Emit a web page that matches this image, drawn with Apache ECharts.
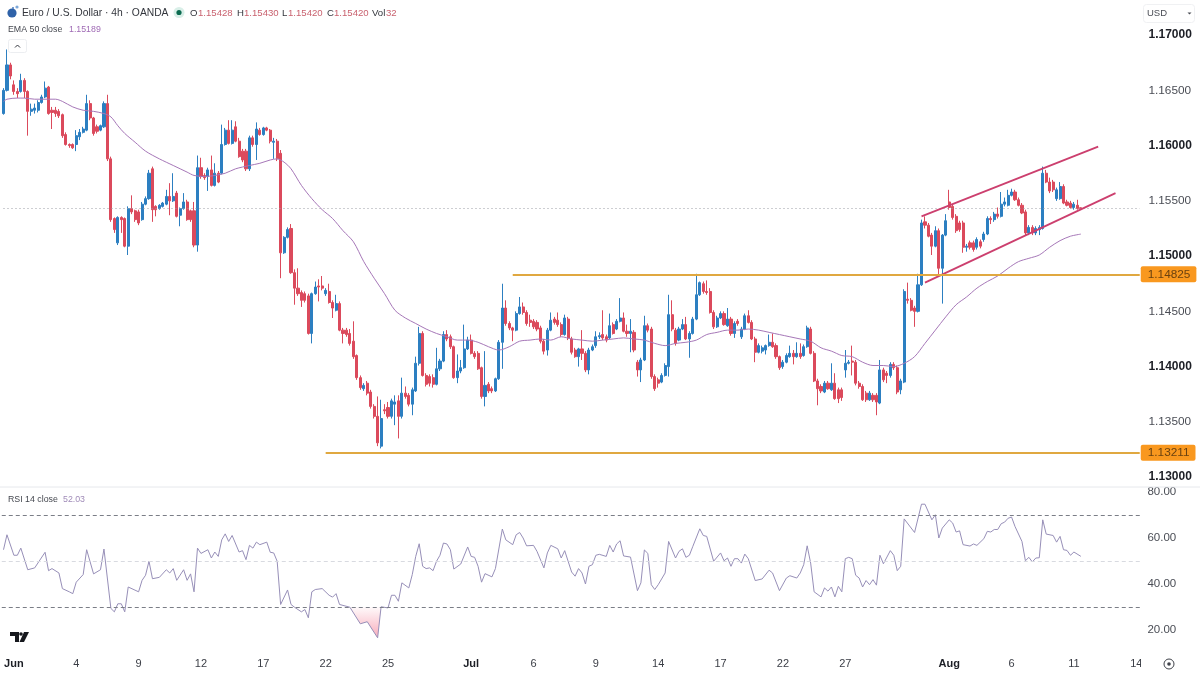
<!DOCTYPE html>
<html><head><meta charset="utf-8">
<style>html,body{margin:0;padding:0;background:#fff}#c{width:1200px;height:675px}</style>
<script src="https://cdn.jsdelivr.net/npm/echarts@6/dist/echarts.min.js"></script>
</head><body><div id="c"></div>
<script>
// rows: [open, close, low, high]
const juneCandles = [
[1.1628,1.1649,1.1627,1.1651],[1.1649,1.1672,1.1648,1.1686],[1.1672,1.1662,1.1659,1.1674],[1.1654,1.1648,1.1645,1.1658],[1.1648,1.1646,1.1642,1.1651],[1.1648,1.1658,1.1647,1.1664],[1.1658,1.1648,1.1642,1.1660],[1.1648,1.1630,1.1608,1.1649],[1.1630,1.1632,1.1626,1.1637],[1.1631,1.1633,1.1628,1.1637],
[1.1631,1.1638,1.1629,1.1640],[1.1638,1.1643,1.1637,1.1645],[1.1643,1.1651,1.1642,1.1657],[1.1652,1.1628,1.1627,1.1653],[1.1631,1.1629,1.1614,1.1634],[1.1631,1.1628,1.1625,1.1634],[1.1630,1.1626,1.1624,1.1632],[1.1627,1.1608,1.1606,1.1628],[1.1609,1.1600,1.1599,1.1611],[1.1600,1.1599,1.1597,1.1601],
[1.1600,1.1597,1.1596,1.1601],[1.1600,1.1608,1.1594,1.1613],[1.1607,1.1611,1.1604,1.1614],[1.1611,1.1614,1.1610,1.1616],[1.1613,1.1637,1.1612,1.1645],[1.1637,1.1624,1.1622,1.1640],[1.1624,1.1610,1.1608,1.1625],[1.1616,1.1612,1.1610,1.1618],[1.1613,1.1617,1.1612,1.1618],[1.1616,1.1637,1.1615,1.1639],
[1.1637,1.1587,1.1585,1.1645],[1.1587,1.1532,1.1530,1.1589],[1.1533,1.1523,1.1520,1.1534],[1.1511,1.1534,1.1509,1.1535],[1.1534,1.1532,1.1520,1.1535],[1.1533,1.1508,1.1507,1.1534],[1.1508,1.1542,1.1500,1.1544],[1.1542,1.1539,1.1537,1.1554],[1.1540,1.1532,1.1530,1.1541],[1.1539,1.1529,1.1527,1.1541],
[1.1532,1.1546,1.1531,1.1548],[1.1546,1.1551,1.1545,1.1553],[1.1551,1.1574,1.1550,1.1577],[1.1578,1.1541,1.1530,1.1580],[1.1544,1.1541,1.1535,1.1545],[1.1542,1.1545,1.1541,1.1546],[1.1544,1.1547,1.1543,1.1548],[1.1546,1.1553,1.1545,1.1559],[1.1553,1.1549,1.1536,1.1565],[1.1549,1.1553,1.1548,1.1574],
[1.1556,1.1535,1.1534,1.1558],[1.1536,1.1542,1.1526,1.1543],[1.1542,1.1548,1.1541,1.1556],[1.1548,1.1532,1.1531,1.1550],[1.1540,1.1532,1.1530,1.1541],[1.1540,1.1509,1.1507,1.1548],[1.1509,1.1579,1.1503,1.1590],[1.1579,1.1571,1.1569,1.1588],[1.1572,1.1570,1.1568,1.1574],[1.1571,1.1577,1.1558,1.1579],
[1.1577,1.1563,1.1562,1.1590],[1.1563,1.1574,1.1562,1.1583],[1.1574,1.1566,1.1565,1.1576],[1.1574,1.1600,1.1573,1.1618],[1.1600,1.1613,1.1599,1.1615],[1.1613,1.1601,1.1600,1.1622],[1.1601,1.1613,1.1600,1.1622],[1.1616,1.1603,1.1602,1.1621],[1.1603,1.1589,1.1588,1.1606],[1.1594,1.1586,1.1584,1.1596],
[1.1594,1.1578,1.1576,1.1596],[1.1578,1.1606,1.1576,1.1608],[1.1606,1.1600,1.1598,1.1608],[1.1600,1.1614,1.1586,1.1620],[1.1613,1.1609,1.1608,1.1615],[1.1609,1.1615,1.1608,1.1616],[1.1615,1.1613,1.1612,1.1616],[1.1613,1.1603,1.1601,1.1614],[1.1602,1.1603,1.1587,1.1606],[1.1603,1.1587,1.1585,1.1605],
[1.1592,1.1502,1.1479,1.1595],[1.1502,1.1516,1.1501,1.1517],[1.1516,1.1523,1.1515,1.1525],[1.1524,1.1484,1.1483,1.1528],[1.1484,1.1470,1.1455,1.1487],[1.1470,1.1465,1.1463,1.1488],[1.1466,1.1459,1.1453,1.1468],[1.1465,1.1459,1.1457,1.1467],[1.1463,1.1429,1.1428,1.1465],[1.1429,1.1465,1.1420,1.1466],
[1.1465,1.1471,1.1464,1.1476],[1.1472,1.1471,1.1458,1.1478],[1.1472,1.1470,1.1468,1.1481],[1.1465,1.1468,1.1463,1.1470],[1.1467,1.1457,1.1456,1.1474],[1.1457,1.1452,1.1443,1.1459],[1.1450,1.1456,1.1449,1.1464],[1.1456,1.1432,1.1431,1.1458],[1.1432,1.1429,1.1420,1.1434],[1.1432,1.1428,1.1426,1.1434],
[1.1429,1.1420,1.1418,1.1433],[1.1422,1.1408,1.1406,1.1440],[1.1409,1.1389,1.1387,1.1410],[1.1389,1.1380,1.1378,1.1391],[1.1379,1.1382,1.1377,1.1384],[1.1384,1.1375,1.1373,1.1386],[1.1376,1.1363,1.1361,1.1378],[1.1363,1.1354,1.1352,1.1365],[1.1354,1.1330,1.1327,1.1372],[1.1327,1.1352,1.1325,1.1369],
[1.1360,1.1359,1.1356,1.1365],[1.1362,1.1354,1.1352,1.1367],[1.1354,1.1368,1.1352,1.1370],[1.1365,1.1367,1.1346,1.1373],[1.1368,1.1354,1.1334,1.1373],[1.1354,1.1375,1.1352,1.1389],[1.1375,1.1372,1.1370,1.1381],[1.1373,1.1365,1.1363,1.1375],[1.1365,1.1378,1.1355,1.1380],[1.1377,1.1402,1.1376,1.1408],
[1.1402,1.1429,1.1400,1.1435],[1.1429,1.1391,1.1390,1.1431],[1.1391,1.1383,1.1381,1.1393],[1.1390,1.1384,1.1381,1.1392],[1.1389,1.1383,1.1380,1.1392],[1.1383,1.1397,1.1382,1.1416],[1.1397,1.1404,1.1395,1.1406],[1.1404,1.1428,1.1403,1.1431],[1.1428,1.1424,1.1422,1.1432],[1.1426,1.1417,1.1415,1.1428],
[1.1417,1.1389,1.1388,1.1418],[1.1389,1.1395,1.1384,1.1410],[1.1395,1.1398,1.1393,1.1405],[1.1398,1.1415,1.1397,1.1437],[1.1415,1.1423,1.1414,1.1426]
];
const julyCandles = [
[1.1423,1.1411,1.1410,1.1428],[1.1411,1.1408,1.1406,1.1413],[1.1411,1.1397,1.1396,1.1413],[1.1398,1.1372,1.1370,1.1399],[1.1372,1.1382,1.1363,1.1413],[1.1383,1.1377,1.1375,1.1385],[1.1379,1.1377,1.1375,1.1381],[1.1377,1.1388,1.1376,1.1389],[1.1388,1.1421,1.1387,1.1423],[1.1421,1.1452,1.1397,1.1474],
[1.1452,1.1438,1.1436,1.1459],[1.1438,1.1434,1.1432,1.1440],[1.1434,1.1432,1.1422,1.1435],[1.1432,1.1447,1.1431,1.1449],[1.1447,1.1453,1.1446,1.1462],[1.1453,1.1448,1.1446,1.1457],[1.1448,1.1438,1.1436,1.1450],[1.1441,1.1439,1.1435,1.1446],[1.1440,1.1435,1.1433,1.1442],[1.1439,1.1433,1.1431,1.1441],
[1.1434,1.1422,1.1420,1.1436],[1.1422,1.1413,1.1410,1.1424],[1.1414,1.1432,1.1409,1.1434],[1.1432,1.1441,1.1431,1.1448],[1.1442,1.1439,1.1437,1.1444],[1.1441,1.1437,1.1435,1.1448],[1.1437,1.1428,1.1426,1.1439],[1.1428,1.1443,1.1427,1.1446],[1.1442,1.1425,1.1423,1.1444],[1.1424,1.1412,1.1410,1.1426],
[1.1414,1.1408,1.1407,1.1416],[1.1408,1.1415,1.1399,1.1416],[1.1415,1.1411,1.1405,1.1432],[1.1411,1.1396,1.1394,1.1413],[1.1396,1.1414,1.1392,1.1416],[1.1414,1.1417,1.1413,1.1419],[1.1418,1.1426,1.1416,1.1431],[1.1426,1.1427,1.1424,1.1430],[1.1428,1.1425,1.1423,1.1450],[1.1426,1.1423,1.1421,1.1428],
[1.1425,1.1436,1.1424,1.1447],[1.1437,1.1429,1.1428,1.1439],[1.1433,1.1440,1.1432,1.1442],[1.1440,1.1443,1.1439,1.1461],[1.1443,1.1431,1.1430,1.1448],[1.1431,1.1429,1.1426,1.1437],[1.1429,1.1431,1.1412,1.1442],[1.1430,1.1414,1.1412,1.1432],[1.1403,1.1396,1.1390,1.1405],[1.1396,1.1405,1.1385,1.1407],
[1.1405,1.1436,1.1404,1.1445],[1.1436,1.1432,1.1430,1.1438],[1.1433,1.1390,1.1388,1.1435],[1.1390,1.1379,1.1377,1.1392],[1.1387,1.1384,1.1380,1.1389],[1.1385,1.1391,1.1384,1.1393],[1.1391,1.1400,1.1390,1.1402],[1.1399,1.1446,1.1390,1.1464],[1.1446,1.1433,1.1431,1.1459],[1.1432,1.1420,1.1418,1.1434],
[1.1423,1.1433,1.1422,1.1435],[1.1433,1.1437,1.1432,1.1442],[1.1437,1.1424,1.1423,1.1444],[1.1424,1.1429,1.1407,1.1431],[1.1429,1.1442,1.1428,1.1444],[1.1442,1.1464,1.1441,1.1483],[1.1464,1.1475,1.1463,1.1476],[1.1474,1.1467,1.1465,1.1476],[1.1467,1.1466,1.1464,1.1477],[1.1467,1.1448,1.1447,1.1470],
[1.1448,1.1435,1.1433,1.1450],[1.1435,1.1443,1.1434,1.1445],[1.1443,1.1447,1.1442,1.1449],[1.1447,1.1437,1.1436,1.1449],[1.1436,1.1442,1.1435,1.1452],[1.1442,1.1429,1.1427,1.1444],[1.1429,1.1438,1.1425,1.1440],[1.1440,1.1438,1.1436,1.1442],[1.1426,1.1433,1.1424,1.1435],[1.1433,1.1445,1.1432,1.1447],
[1.1445,1.1439,1.1438,1.1450],[1.1439,1.1424,1.1423,1.1441],[1.1424,1.1412,1.1403,1.1426],[1.1412,1.1418,1.1411,1.1420],[1.1413,1.1416,1.1411,1.1418],[1.1414,1.1418,1.1410,1.1419],[1.1418,1.1421,1.1417,1.1428],[1.1421,1.1417,1.1416,1.1429],[1.1418,1.1408,1.1406,1.1420],[1.1408,1.1398,1.1396,1.1409],
[1.1399,1.1403,1.1397,1.1405],[1.1403,1.1409,1.1402,1.1411],[1.1408,1.1411,1.1407,1.1418],[1.1411,1.1408,1.1401,1.1414],[1.1408,1.1411,1.1407,1.1421],[1.1411,1.1408,1.1406,1.1420],[1.1409,1.1417,1.1408,1.1419],[1.1417,1.1434,1.1416,1.1436],[1.1433,1.1411,1.1410,1.1435],[1.1411,1.1386,1.1385,1.1413],
[1.1386,1.1379,1.1364,1.1388],[1.1381,1.1377,1.1375,1.1383],[1.1376,1.1384,1.1375,1.1386],[1.1384,1.1379,1.1378,1.1386],[1.1378,1.1384,1.1377,1.1402],[1.1384,1.1370,1.1369,1.1393],[1.1378,1.1370,1.1366,1.1380],[1.1378,1.1371,1.1368,1.1380],[1.1396,1.1402,1.1389,1.1414],[1.1402,1.1403,1.1401,1.1405],
[1.1404,1.1403,1.1391,1.1418],[1.1403,1.1384,1.1382,1.1405],[1.1384,1.1381,1.1379,1.1386],[1.1381,1.1369,1.1368,1.1383],[1.1375,1.1369,1.1367,1.1377],[1.1369,1.1375,1.1368,1.1377],[1.1373,1.1369,1.1367,1.1375],[1.1373,1.1367,1.1355,1.1375],[1.1366,1.1396,1.1365,1.1405],[1.1396,1.1387,1.1385,1.1398],
[1.1393,1.1391,1.1384,1.1395],[1.1391,1.1401,1.1389,1.1403],[1.1401,1.1398,1.1396,1.1403],[1.1398,1.1376,1.1374,1.1400],[1.1378,1.1386,1.1374,1.1388],[1.1385,1.1467,1.1384,1.1469],[1.1460,1.1459,1.1456,1.1475],[1.1459,1.1450,1.1449,1.1461],[1.1452,1.1449,1.1435,1.1454],[1.1449,1.1473,1.1448,1.1483],
[1.1473,1.1529,1.1472,1.1532],[1.1530,1.1527,1.1524,1.1535],[1.1527,1.1517,1.1516,1.1529],[1.1518,1.1508,1.1500,1.1520],[1.1508,1.1522,1.1507,1.1526],[1.1522,1.1488,1.1482,1.1524],[1.1488,1.1518,1.1456,1.1519],[1.1518,1.1531,1.1517,1.1537]
];
const augustCandles = [
[1.1548,1.1543,1.1541,1.1559],[1.1544,1.1534,1.1532,1.1546],[1.1535,1.1522,1.1520,1.1537],[1.1529,1.1523,1.1521,1.1531],[1.1529,1.1507,1.1502,1.1531],[1.1507,1.1508,1.1503,1.1510],[1.1511,1.1507,1.1505,1.1513],[1.1511,1.1505,1.1503,1.1513],[1.1507,1.1514,1.1505,1.1516],[1.1512,1.1508,1.1506,1.1514],
[1.1514,1.1519,1.1512,1.1521],[1.1519,1.1533,1.1518,1.1535],[1.1533,1.1532,1.1528,1.1535],[1.1532,1.1537,1.1530,1.1539],[1.1537,1.1535,1.1533,1.1543],[1.1535,1.1546,1.1534,1.1557],[1.1546,1.1548,1.1544,1.1552],[1.1545,1.1554,1.1544,1.1559],[1.1554,1.1557,1.1553,1.1560],[1.1557,1.1550,1.1549,1.1559],
[1.1550,1.1545,1.1544,1.1552],[1.1545,1.1538,1.1537,1.1547],[1.1539,1.1520,1.1518,1.1541],[1.1520,1.1525,1.1518,1.1527],[1.1525,1.1520,1.1518,1.1527],[1.1520,1.1524,1.1518,1.1526],[1.1523,1.1525,1.1518,1.1527],[1.1524,1.1574,1.1523,1.1580],[1.1574,1.1566,1.1565,1.1577],[1.1566,1.1558,1.1556,1.1570],
[1.1566,1.1559,1.1557,1.1568],[1.1551,1.1559,1.1549,1.1561],[1.1551,1.1562,1.1550,1.1566],[1.1562,1.1547,1.1546,1.1564],[1.1548,1.1545,1.1544,1.1550],[1.1547,1.1543,1.1542,1.1549],[1.1543,1.1546,1.1541,1.1548],[1.1545,1.1542,1.1541,1.1550],[1.15428,1.15420,1.15420,1.15430]
];
// [bar index, value]
const emaPoints = [[0,1.1639],[1,1.1641],[4,1.1642],[6,1.1642],[9,1.1641],[13,1.1641],[15,1.1641],[17,1.1639],[20,1.1634],[23,1.1631],[26,1.1630],[29,1.1628],[31,1.1625],[33,1.1617],[35,1.1610],[38,1.1602],[41,1.1594],[45,1.1587],[49,1.1581],[53,1.1575],[55,1.1572],[58,1.1571],[61,1.1572],[64,1.1574],[67,1.1578],[71,1.1581],[74,1.1583],[77,1.1586],[79,1.1587],[81,1.1584],[83,1.1578],[86,1.1563],[89,1.1551],[92,1.1541],[95,1.1533],[98,1.1522],[101,1.1512],[104,1.1494],[107,1.1479],[110,1.1465],[113,1.1450],[116,1.1443],[119,1.1438],[122,1.1433],[125,1.1429],[128,1.1426],[131,1.1423],[134,1.1423],[137,1.1421],[140,1.1417],[143,1.1414],[146,1.1417],[149,1.1422],[152,1.1423],[155,1.1424],[158,1.1423],[161,1.1426],[164,1.1424],[167,1.1423],[170,1.1422],[173,1.1423],[176,1.1424],[179,1.1425],[182,1.1424],[185,1.1423],[188,1.1420],[191,1.1418],[194,1.1420],[197,1.1421],[200,1.1423],[203,1.1428],[206,1.1430],[209,1.1432],[212,1.1432],[215,1.1433],[218,1.1432],[221,1.1430],[224,1.1428],[227,1.1426],[230,1.1424],[233,1.1422],[236,1.1416],[239,1.1413],[242,1.1409],[245,1.1408],[248,1.1403],[251,1.1400],[254,1.1400],[257,1.1399],[260,1.1402],[263,1.1408],[266,1.1420],[269,1.1432],[272,1.1444],[275,1.1455],[278,1.1462],[281,1.1470],[284,1.1476],[287,1.1481],[290,1.1488],[293,1.1494],[296,1.1497],[299,1.1500],[302,1.1507],[305,1.1513],[308,1.1517],[311,1.15189]];
const rsiJune = [[0,54.9],[1,61.4],[3,52.5],[4,52.5],[5,55.6],[7,46.2],[9,47.0],[12,53.8],[13,45.8],[14,46.7],[16,44.8],[17,38.0],[19,36.6],[20,35.8],[21,40.8],[23,44.1],[24,54.9],[26,44.4],[28,46.2],[29,55.2],[31,29.4],[32,27.9],[33,31.4],[34,31.4],[35,27.9],[36,38.7],[39,36.6],[40,41.6],[41,43.8],[42,49.9],[43,42.3],[45,42.9],[47,46.2],[48,44.8],[49,46.7],[50,41.6],[52,46.2],[53,41.6],[54,44.4],[55,36.6],[56,55.6],[57,53.3],[59,54.9],[60,51.3],[61,53.9],[62,52.0],[63,59.2],[64,61.8],[65,58.5],[66,61.1],[68,53.9],[69,54.5],[70,50.6],[71,56.8],[72,55.6],[73,58.2],[74,57.1],[76,58.2],[77,53.8],[78,53.5],[79,49.9],[80,31.1],[82,37.4],[83,31.1],[84,29.9],[86,27.9],[87,28.9],[88,25.3],[89,36.6],[90,37.6],[92,38.0],[94,35.1],[95,34.3],[96,35.8],[97,31.1],[100,29.9],[103,22.7],[105,23.6],[108,16.6],[109,30.1],[111,29.6],[112,35.1],[113,35.1],[114,32.5],[115,40.5],[117,38.3],[118,44.1],[119,52.0],[120,57.5],[121,47.7],[122,46.7],[123,47.0],[124,45.8],[125,49.9],[126,52.5],[127,57.8],[128,57.4],[129,54.9],[130,46.5],[132,48.7],[134,56.1]];
const rsiJuly = [[135,52.0],[136,51.6],[137,47.7],[138,40.8],[139,44.5],[141,43.1],[142,46.7],[144,63.9],[145,59.2],[147,57.1],[148,61.4],[149,62.4],[150,60.0],[151,56.6],[153,56.8],[154,54.2],[156,47.0],[157,53.5],[158,56.8],[160,55.3],[161,51.3],[162,54.5],[164,45.2],[165,43.4],[166,46.7],[167,44.8],[168,40.0],[169,47.7],[170,48.4],[171,52.5],[172,52.9],[174,52.0],[175,56.8],[176,53.9],[177,57.4],[178,58.8],[179,52.2],[181,51.7],[183,37.1],[184,40.5],[185,54.8],[186,53.3],[187,39.7],[188,37.6],[189,39.7],[191,44.8],[192,58.5],[194,51.3],[195,54.2],[196,55.3],[197,51.6],[198,52.5],[199,56.4],[201,64.0],[202,61.1],[203,60.7],[205,49.9],[207,53.5],[208,50.1],[209,51.3],[210,47.7],[211,51.0],[212,51.0],[213,49.1],[214,53.0],[215,51.0],[217,41.5],[219,42.2],[221,46.0],[222,44.8],[224,37.1],[226,42.6],[227,43.6],[229,42.6],[230,44.8],[231,48.4],[232,56.6],[233,49.1],[234,36.6],[236,34.4],[237,38.3],[238,36.9],[239,38.7],[240,34.4],[241,39.0],[242,36.6],[243,51.0],[244,51.6],[245,51.0],[246,43.8],[247,42.6],[248,38.7],[249,41.5],[250,39.7],[251,41.9],[252,39.5],[253,52.5],[254,48.8],[256,54.5],[257,52.5],[258,45.8],[259,47.7],[260,68.3],[263,62.4],[265,74.7],[266,74.7],[268,67.9],[269,70.1],[270,60.0],[271,64.3]];
const rsiAugust = [[273,67.9],[274,66.5],[275,62.6],[276,63.1],[277,57.1],[279,56.5],[280,57.4],[281,56.8],[283,59.7],[284,62.9],[285,62.6],[286,63.7],[287,63.7],[288,66.2],[289,66.9],[290,68.6],[291,69.1],[292,65.0],[294,58.5],[295,50.1],[296,51.6],[297,49.6],[298,51.3],[299,51.4],[300,67.9],[301,61.7],[303,61.1],[304,58.2],[305,60.7],[306,54.9],[307,54.6],[308,52.5],[309,53.9],[311,52.03]];
const rsiOversold = [[100,30],[103,22.7],[105,23.6],[108,16.6],[109,30]];
const rsiLevels = [70,50,30];
const tickIndex = [3,21,39,57,75,93,111,135,153,171,189,207,225,243,273,291,309,327];
const tickLabels = ['Jun','4','9','12','17','22','25','Jul','6','9','14','17','22','27','Aug','6','11','14'];
const supportResistance = [{from:147,level:1.14825},{from:93,level:1.13211}];
const lastPrice = 1.1542;
const channelLines = [[[265,1.1535],[316,1.1598]],[[266,1.1475],[321,1.1556]]];
const slotCount = 329;

const FONT = 'Liberation Sans';
const candles = juneCandles.concat(julyCandles, augustCandles);
const cats = Array.from({length: slotCount}, (_, i) => String(i));
const RED = '#db4a5c', BLUE = '#2c7fc1';
const labelAt = {}; tickIndex.forEach((t, k) => labelAt[t] = tickLabels[k]);
const txt = (x, y, text, fill, size, weight) => ({type:'text', x, y, z:50, silent:true,
  style:{text, fill, font:(weight||'normal')+' '+(size||11)+'px "'+FONT+'"', textVerticalAlign:'middle'}});
const lineStyleDash = (c) => ({color:c, type:[4,3], width:1});

const chart = echarts.init(document.getElementById('c'), null, {renderer:'canvas'});
chart.setOption({
  animation:false, backgroundColor:'#fff',
  grid:[{left:1.77, width:1139.7, top:34, height:442},{left:1.77, width:1139.7, top:492, height:138}],
  xAxis:[
    {type:'category', gridIndex:0, data:cats, boundaryGap:true, axisLine:{show:false}, axisTick:{show:false}, axisLabel:{show:false}, splitLine:{show:false}},
    {type:'category', gridIndex:1, data:cats, boundaryGap:true, axisLine:{show:false}, axisTick:{show:false}, splitLine:{show:false},
     axisLabel:{show:true, margin:28, hideOverlap:false, fontFamily:FONT, fontSize:11, color:'#3a3d45',
       interval:(i)=>labelAt[i]!==undefined,
       formatter:(v,i)=>{const l=labelAt[i]; if(l===undefined) return ''; return /[A-Z]/.test(l)?'{b|'+l+'}':l;},
       rich:{b:{fontFamily:FONT,fontSize:11,fontWeight:'bold',color:'#1d1f26'}}}}
  ],
  yAxis:[
    {type:'value', gridIndex:0, position:'right', min:1.13, max:1.17, interval:0.005, scale:true, axisLine:{show:false}, axisTick:{show:false}, splitLine:{show:false},
     axisLabel:{margin:7, padding:[2,0,0,0], fontFamily:FONT, fontSize:11.8, color:'#4a4d55',
       formatter:(v)=>{const s=v.toFixed(5); return Math.round(v*1e5)%1000===0?'{b|'+s+'}':s;},
       rich:{b:{fontFamily:FONT,fontSize:12,fontWeight:'bold',color:'#1d1f26'}}}},
    {type:'value', gridIndex:1, position:'right', min:20, max:80, interval:20, axisLine:{show:false}, axisTick:{show:false}, splitLine:{show:false},
     axisLabel:{margin:6, padding:[5,0,0,0], fontFamily:FONT, fontSize:11.5, color:'#4a4d55', formatter:(v)=>v.toFixed(2)}}
  ],
  series:[
    {type:'candlestick', name:'EUR/USD', xAxisIndex:0, yAxisIndex:0, data:candles, barWidth:2.6,
     itemStyle:{color:BLUE, color0:RED, borderColor:BLUE, borderColor0:RED, borderWidth:1},
     markLine:{silent:true, symbol:'none', animation:false, data:[
       [{xAxis:0,yAxis:lastPrice,lineStyle:{color:'#9a9da5',type:[1,3],width:1},label:{show:false}},{xAxis:slotCount-1,yAxis:lastPrice}],
       ...channelLines.map(c=>[{xAxis:c[0][0],yAxis:c[0][1],lineStyle:{color:'#cc3f6e',type:'solid',width:1.8},label:{show:false}},{xAxis:c[1][0],yAxis:c[1][1]}]),
       ...supportResistance.map(s=>[{xAxis:s.from,yAxis:s.level,lineStyle:{color:'#e0a840',type:'solid',width:2},
          label:{show:true,position:'end',distance:1,formatter:s.level.toFixed(5),fontFamily:FONT,fontSize:11.8,color:'#6b4210',backgroundColor:'#f9981f',padding:[2,6,2,7],borderRadius:2}},
          {xAxis:slotCount-1,yAxis:s.level}])
     ]}},
    {type:'line', name:'EMA 50', xAxisIndex:0, yAxisIndex:0, data:emaPoints, smooth:0.3, showSymbol:false, connectNulls:true, lineStyle:{color:'#a677b8',width:1}},
    {type:'line', name:'RSI oversold', xAxisIndex:1, yAxisIndex:1, data:rsiOversold, showSymbol:false, clip:false, lineStyle:{width:0},
     areaStyle:{origin:30, opacity:1, color:{type:'linear',x:0,y:0,x2:0,y2:1,colorStops:[{offset:0,color:'rgba(240,90,120,0.03)'},{offset:1,color:'rgba(240,90,120,0.5)'}]}}},
    {type:'line', name:'RSI 14', xAxisIndex:1, yAxisIndex:1, data:rsiJune.concat(rsiJuly, rsiAugust), showSymbol:false, clip:false, lineStyle:{color:'#978fb8',width:1},
     markLine:{silent:true, symbol:'none', animation:false, label:{show:false}, data:rsiLevels.map(v=>({yAxis:v, lineStyle:lineStyleDash(v===50?'#d8dae0':'#7b7e87')}))}}
  ],
  graphic:{elements:[
    {type:'line', z:1, silent:true, shape:{x1:0,y1:487,x2:1200,y2:487}, style:{stroke:'#e6e8ec',lineWidth:1}},
    {type:'rect', z:40, silent:true, shape:{x:1141,y:652,width:59,height:23}, style:{fill:'#fff'}},
    {type:'circle', z:50, silent:true, shape:{cx:1169,cy:664,r:5}, style:{fill:'none',stroke:'#3f424a',lineWidth:1}},
    {type:'circle', z:50, silent:true, shape:{cx:1169,cy:664,r:1.8}, style:{fill:'#3f424a'}},
    // logo + header
    {type:'circle', z:50, silent:true, shape:{cx:12,cy:13,r:4.6}, style:{fill:'#2f62a8'}},
    {type:'circle', z:50, silent:true, shape:{cx:17,cy:7,r:1.6}, style:{fill:'#7da7d8'}},
    {type:'circle', z:50, silent:true, shape:{cx:13,cy:8,r:1}, style:{fill:'#4a7cc0'}},
    txt(22,13,'Euro / U.S. Dollar · 4h · OANDA','#33363d',10.3),
    {type:'circle', z:49, silent:true, shape:{cx:179,cy:12.5,r:5.5}, style:{fill:'#d9efe8'}},
    {type:'circle', z:50, silent:true, shape:{cx:179,cy:12.5,r:2.6}, style:{fill:'#0b6b50'}},
    txt(190,13,'O','#33363d',9.6), txt(198,13,'1.15428','#c9626f',9.6),
    txt(237,13,'H','#33363d',9.6), txt(244,13,'1.15430','#c9626f',9.6),
    txt(282,13,'L','#33363d',9.6), txt(288,13,'1.15420','#c9626f',9.6),
    txt(327,13,'C','#33363d',9.6), txt(334,13,'1.15420','#c9626f',9.6),
    txt(372,13,'Vol','#33363d',9.6), txt(386,13,'32','#c9626f',9.6),
    txt(8,29.5,'EMA 50 close','#44474f',8.8), txt(69,29.5,'1.15189','#a06bb5',8.8),
    {type:'rect', z:50, silent:true, shape:{x:8.5,y:39.5,width:18,height:13,r:2}, style:{fill:'#fff',stroke:'#eceef1',lineWidth:1}},
    {type:'polyline', z:51, silent:true, shape:{points:[[15,47.5],[17.5,45],[20,47.5]]}, style:{fill:'none',stroke:'#33363d',lineWidth:1}},
    txt(8,500,'RSI 14 close','#44474f',8.8), txt(63,500,'52.03','#a08bb8',8.8),
    // USD box
    {type:'rect', z:50, silent:true, shape:{x:1143.5,y:4.5,width:51,height:18,r:3}, style:{fill:'#fff',stroke:'#f0f1f3',lineWidth:1}},
    txt(1147,13.5,'USD','#4a4d55',9.5),
    {type:'polygon', z:51, silent:true, shape:{points:[[1187.5,12.5],[1191.5,12.5],[1189.5,14.5]]}, style:{fill:'#4a4d55'}},
    // TradingView mark
    {type:'polygon', z:50, silent:true, shape:{points:[[10,632],[19,632],[19,642],[15,642],[15,636],[10,636]]}, style:{fill:'#16181d'}},
    {type:'circle', z:50, silent:true, shape:{cx:21,cy:634,r:1.8}, style:{fill:'#16181d'}},
    {type:'polygon', z:50, silent:true, shape:{points:[[24,632],[29,632],[24,642],[19.5,642]]}, style:{fill:'#16181d'}}
  ]}
});
</script></body></html>
